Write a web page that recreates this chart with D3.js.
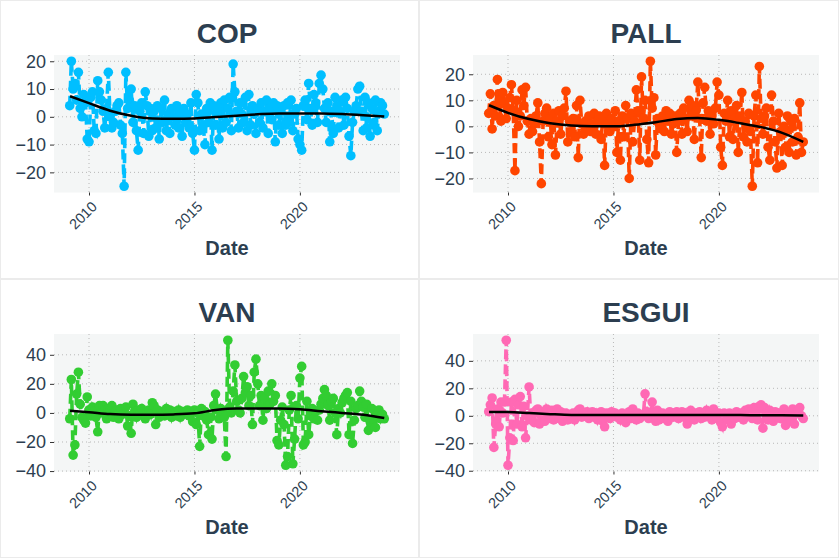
<!DOCTYPE html>
<html><head><meta charset="utf-8">
<script src="https://cdn.jsdelivr.net/npm/d3@7"></script>
<style>
body{margin:0;background:#fff}
svg{display:block}
text{font-family:"Liberation Sans",Arial,sans-serif}
</style></head>
<body><svg id="c" width="839" height="558"></svg>
<script>
// Monthly observations, Feb 2009 .. Jan 2024
const monthCount = 180;
const dates = d3.range(monthCount).map(i => new Date(2009, 1 + i, 1));

const cop = [
 4,20,10,12,6,16,3,0,8,5,-8,-9,
 7,9,-5,-6,13,9,6,2,-4,3,16,0,
 -4,-2,2,4,5,-3,-6,-25,16,3,6,10,
 -2,4,-5,-12,2,5,-6,9,4,-7,3,-5,
 2,-4,4,-8,3,-2,6,-5,1,-6,3,0,
 -3,4,-4,2,-7,3,-2,1,-4,5,-6,-12,
 8,5,-5,1,-3,-10,3,-2,5,-12,4,-3,
 2,-8,5,-4,6,-2,3,7,-5,19,9,2,
 -4,5,1,-2,7,-5,8,-3,4,1,-6,3,
 -2,5,-4,2,6,-6,3,-1,5,-9,4,-3,
 2,-6,4,-3,5,-2,6,-5,1,3,-8,-10,
 -12,4,6,-1,12,3,-3,8,5,-2,12,15,
 10,3,-2,5,-9,2,-6,7,4,-4,2,6,
 -3,7,3,-7,-14,-2,2,4,10,11,2,-5,
 7,-4,5,-7,3,-3,6,-5,2,5,4,1];

const pall = [
 5,12.5,-1,8,4,18,10,2,13,9,3,7,
 11,16,6,-17,10,0,4,14,8,15,2,-3,
 3,-2,1,4,9,-6,-22,2,5,7,-4,3,
 -7,5,-11,2,6,-3,4,7,13.5,-6,2,-2,
 3,-4,8,-12,10,1,-3,2,-1,4,-2,1,
 5,-3,2,4,-5,3,-15,5,1,-2,3,0,
 6,-10,2,-13,4,-4,8,3,-20,5,-6,2,
 14,6,-13,19,3,10,-5,-14,25,7,11,-11,
 3,1,-1,4,-2,6,2,5,-3,1,4,-10,
 2,5,-3,7,3,-2,10,4,8,-5,6,17,
 3,-12,9,15,2,6,-3,4,1,7,17,12,
 -8,-15,5,2,10,-4,6,-5,3,8,-10,4,
 13,-4,2,-6,5,-2,-23,4,12,-14,23,3,
 -3,4,7,-8,-13,12,2,-6,-16,5,-2,-15,
 0,-8,4,-10,2,-6,3,-11,-4,9,-10,-6];

const van = [
 -4,23,-29,-22,13,28,6,-3,-5,-7,11,2,
 -2,4,1,-3,-13,5,0,5,2,-4,3,2,
 5,-3,1,2,-4,3,-1,0,4,-9,-2,-14,
 6,1,-3,2,0,3,-2,-4,1,2,-1,7,
 5,-8,2,-3,1,0,-2,3,-1,2,-3,1,
 0,-2,2,-3,1,-1,0,2,-2,1,-6,2,
 -8,0,-23,3,-2,1,-5,-15,-3,-18,5,13,
 2,-4,3,0,-3,-30,50,4,0,15,33,8,
 2,0,10,25,14,18,5,12,-8,28,37,20,
 5,12,-5,10,3,15,6,20,8,12,-19,-22,
 -5,4,-8,-36,-30,2,12,-35,-18,5,-4,24,
 32,-22,-20,8,-15,-2,3,-4,1,-5,2,6,
 10,16,12,5,-5,8,10,0,-15,3,0,7,
 10,12,14,-15,8,-21,-5,3,5,15,8,4,
 -3,6,-12,-6,3,-5,-10,-2,2,-4,-1,-4];

const esgui = [
 3,8,13,-23,-6,5,-8,10,2,10,55,-36,
 -16,10,-18,12,-6,8,14,-8,7,-16,0,21,
 -3,2,-5,4,5,-6,3,1,-4,5,2,-2,
 4,-3,1,5,-2,3,-4,0,2,-3,1,-2,
 2,-3,1,4,5,-1,2,0,3,-2,1,3,
 -1,2,-3,1,3,-4,-8,2,1,-2,3,0,
 2,-1,1,-3,2,0,-5,1,3,-2,5,0,
 -3,2,-2,1,0,16,3,-2,1,10,2,-4,
 4,-3,0,2,-2,1,-4,3,0,-1,2,3,
 -2,1,3,-1,2,-6,0,4,1,-3,2,1,
 3,-2,1,-1,4,0,2,-3,5,1,-2,2,
 -5,-8,2,1,-3,2,-6,0,-2,3,-1,1,
 2,-3,4,0,5,3,-2,6,4,-3,7,8,
 -9,6,2,-3,4,1,-4,3,-1,2,-2,1,
 5,-7,2,0,-3,5,-6,2,4,6,0,-2];

// Smoothed trend read at yearly knots
const smoothYears = [2009.1,2010,2011,2012,2013,2014,2015,2016,2017,2018,2019,2020,2021,2022,2023,2024];
const smoothCop   = [7.4,4.9,2.2,0.4,-0.6,-0.7,-0.6,-0.1,0.4,0.9,1.2,1.2,1.2,1.0,0.6,0.1];
const smoothPall  = [8.1,5.2,2.8,1.2,0.3,0.0,0.0,0.6,1.6,2.8,3.2,2.5,1.2,-0.3,-2.5,-6.0];
const smoothVan   = [1.5,0.5,-0.8,-1.2,-1.2,-1.0,-0.3,2.0,3.0,3.0,3.0,2.5,1.2,0.0,-1.2,-3.5];
const smoothEsgui = [2.8,2.7,2.0,1.2,0.6,0.5,0.5,0.5,0.5,0.5,0.5,0.5,0.5,0.4,0.4,0.3];

const panelTitles = ["COP","PALL","VAN","ESGUI"];
const panelColors = ["#00BFFF","#FF4500","#32CD32","#FF69B4"];
const yTickSets = [[-20,-10,0,10,20],[-20,-10,0,10,20],[-40,-20,0,20,40],[-40,-20,0,20,40]];
const xTickYears = [2010,2015,2020];
const seriesList = [cop,pall,van,esgui];
const smoothList = [smoothCop,smoothPall,smoothVan,smoothEsgui];

function decToDate(y){
  const yr = Math.floor(y);
  const a = new Date(yr,0,1), b = new Date(yr+1,0,1);
  return new Date(+a + (y-yr)*(b-a));
}

const svg = d3.select("#c");
const panels = [
  {x:0,y:0,w:419,h:279},{x:419,y:0,w:420,h:279},
  {x:0,y:279,w:419,h:279},{x:419,y:279,w:420,h:279}
];
const txtColor = "#2c3e50";

panels.forEach((p,k)=>{
  const g = svg.append("g").attr("transform",`translate(${p.x},${p.y})`);
  g.append("rect").attr("x",0.5).attr("y",0.5).attr("width",p.w-1).attr("height",p.h-1)
    .attr("fill","#fff").attr("stroke","#ebebeb");
  const L=54,R=400,T=55,B=192.5;
  const vals = seriesList[k];
  const sm = smoothList[k];
  const d0 = dates[0], d1 = dates[monthCount-1];
  const span = d1-d0;
  const x = d3.scaleTime().domain([new Date(+d0-0.05*span), new Date(+d1+0.05*span)]).range([L,R]);
  const ext = d3.extent(vals.concat(sm));
  const ys = ext[1]-ext[0];
  const y = d3.scaleLinear().domain([ext[0]-0.05*ys, ext[1]+0.05*ys]).range([B,T]);

  g.append("rect").attr("x",L).attr("y",T).attr("width",R-L).attr("height",B-T).attr("fill","#f4f6f6");
  // grid
  yTickSets[k].forEach(t=>{
    g.append("line").attr("x1",L).attr("x2",R).attr("y1",y(t)).attr("y2",y(t))
      .attr("stroke","#b8b8b8").attr("stroke-width",1).attr("stroke-dasharray","1,3");
  });
  xTickYears.forEach(t=>{
    const xx = x(new Date(t,0,1));
    g.append("line").attr("x1",xx).attr("x2",xx).attr("y1",T).attr("y2",B)
      .attr("stroke","#b8b8b8").attr("stroke-width",1).attr("stroke-dasharray","1,3");
  });
  // axes
  const yAxis = d3.axisLeft(y).tickValues(yTickSets[k]).tickSize(4).tickPadding(4);
  const ya = g.append("g").attr("transform",`translate(${L},0)`).call(yAxis);
  ya.select(".domain").remove();
  ya.selectAll(".tick line").attr("stroke","#333");
  ya.selectAll(".tick text").attr("fill",txtColor).attr("font-size","18px")
    .attr("font-family",'"Liberation Sans",Arial,sans-serif');
  const xAxis = d3.axisBottom(x).tickValues(xTickYears.map(t=>new Date(t,0,1))).tickSize(3).tickFormat(d3.timeFormat("%Y"));
  const xa = g.append("g").attr("transform",`translate(0,${B})`).call(xAxis);
  xa.select(".domain").remove();
  xa.selectAll(".tick line").attr("stroke","#333");
  xa.selectAll(".tick text").attr("fill",txtColor).attr("font-size","14.5px")
    .attr("font-family",'"Liberation Sans",Arial,sans-serif')
    .attr("text-anchor","end").attr("dy",null).attr("y",null)
    .attr("transform","translate(8.5,15) rotate(-45)");

  // data
  const pts = vals.map((v,i)=>({d:dates[i],v}));
  const line = d3.line().x(d=>x(d.d)).y(d=>y(d.v));
  g.append("path").datum(pts).attr("d",line).attr("fill","none")
    .attr("stroke",panelColors[k]).attr("stroke-width",3.6).attr("stroke-dasharray","10,5");
  g.selectAll("circle.pt").data(pts).enter().append("circle").attr("class","pt")
    .attr("cx",d=>x(d.d)).attr("cy",d=>y(d.v)).attr("r",4.8).attr("fill",panelColors[k]);
  const spts = sm.map((v,i)=>({d:decToDate(smoothYears[i]),v}));
  g.append("path").datum(spts).attr("d",d3.line().x(d=>x(d.d)).y(d=>y(d.v)).curve(d3.curveMonotoneX))
    .attr("fill","none").attr("stroke","#000").attr("stroke-width",2.5);

  // titles
  g.append("text").attr("x",(L+R)/2).attr("y",43).attr("text-anchor","middle")
    .attr("font-size","28px").attr("font-weight","bold").attr("fill",txtColor).text(panelTitles[k]);
  g.append("text").attr("x",(L+R)/2).attr("y",255).attr("text-anchor","middle")
    .attr("font-size","20px").attr("font-weight","bold").attr("fill",txtColor).text("Date");
});
</script></body></html>
